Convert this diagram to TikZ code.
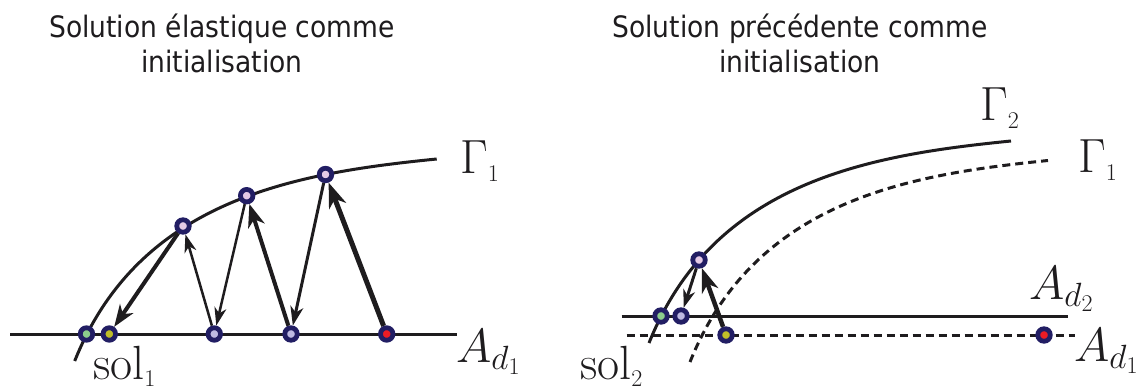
\RequirePackage{fix-cm}
\documentclass[tikz,border=0pt]{standalone}
\usepackage{fontspec}
\newfontfamily\titlefont{DejaVu Sans Condensed}
\usetikzlibrary{arrows.meta}
\definecolor{ink}{RGB}{30,28,30}
\definecolor{ring}{RGB}{34,30,100}
\definecolor{cgreen}{RGB}{140,205,140}
\definecolor{cyellow}{RGB}{192,190,40}
\definecolor{clav}{RGB}{190,186,226}
\definecolor{cpink}{RGB}{228,202,230}
\definecolor{cred}{RGB}{236,28,36}
\tikzset{
  curve/.style={line width=3pt, draw=ink},
  dcurve/.style={curve, dash pattern=on 8pt off 5pt},
  pt/.style={circle, draw=ring, line width=4.8pt, minimum size=12.5pt, inner sep=0pt},
  arrw/.style args={#1/#2/#3}{draw=ink, line width=#1,
     -{Stealth[length=#2, width=#3, inset=0.3*#2]}},
  lbl/.style={font=\fontsize{48}{58}\selectfont, inner sep=0pt, anchor=base west, text=ink},
  ttl/.style={font=\titlefont\fontsize{29.5}{36}\selectfont, inner sep=0pt, anchor=base, text=ink}
}
\begin{document}
\begin{tikzpicture}[x=1pt,y=-1pt]
\useasboundingbox (0,0) rectangle (1145,390);

% titles
\node[ttl] (tl1) at (222,38) {Solution élastique comme};
\node[ttl] (tl2) at (222,73) {initialisation};
\node[ttl] (tr1) at (800,38) {Solution précédente comme};
\node[ttl] (tr2) at (800,73) {initialisation};

% ---------- left panel ----------
\draw[curve] (10,334) -- (457,334);
\draw[curve, shift={(85.7,334)}] (-11,27) .. controls (54,-135.5) and (211,-161) .. (351,-175);

\node[pt, fill=cgreen]  (g1) at (86.5,334) {};
\node[pt, fill=cyellow] (y1) at (109.3,334) {};
\node[pt, fill=clav]    (l1) at (214.3,334) {};
\node[pt, fill=clav]    (l2) at (291,334) {};
\node[pt, fill=cred]    (r1) at (386.7,334) {};
\node[pt, fill=cpink]   (t1) at (183,226) {};
\node[pt, fill=cpink]   (t2) at (246.7,195.7) {};
\node[pt, fill=cpink]   (t3) at (325.5,174.5) {};

\draw[arrw=5pt/25pt/18pt]   (r1) -- (t3);
\draw[arrw=3pt/19pt/13pt]   (t3) -- (l2);
\draw[arrw=4pt/23pt/17pt]   (l2) -- (t2);
\draw[arrw=2.5pt/18pt/12pt] (t2) -- (l1);
\draw[arrw=2.5pt/18pt/12pt] (l1) -- (t1);
\draw[arrw=4pt/22pt/16pt]   (t1) -- (y1);

\node[lbl] (G1L) at (460,174) {$\Gamma_{\scriptscriptstyle 1}$};
\node[lbl] (A1L) at (456,362) {$A_{d_1}$};
\node[lbl] (S1)  at (93,379)  {$\mathrm{sol}_{\scriptscriptstyle 1}$};

% ---------- right panel ----------
\draw[curve] (621.7,316) -- (1068,316);
\draw[dcurve] (626.7,335) -- (1075,335);
\draw[curve, shift={(660,316)}] (-11,27) .. controls (54,-135.5) and (211,-161) .. (351,-175);
\draw[dcurve, shift={(701,335)}] (-11,27) .. controls (54,-135.5) and (209,-160.5) .. (347,-174.5);

\node[pt, fill=cgreen]  (g2) at (661,316) {};
\node[pt, fill=clav]    (l3) at (681,316) {};
\node[pt, fill=cyellow] (y2) at (726,335) {};
\node[pt, fill=cred]    (r2) at (1044,335) {};
\node[pt, fill=cpink]   (p2) at (699,260) {};

\draw[arrw=4.5pt/24pt/17pt] (y2) -- (p2);
\draw[arrw=3pt/18pt/12pt]   (p2) -- (l3);

\node[lbl] (G2)  at (980,121)  {$\Gamma_{\scriptscriptstyle 2}$};
\node[lbl] (G1R) at (1078,173) {$\Gamma_{\scriptscriptstyle 1}$};
\node[lbl] (A2R) at (1029,299) {$A_{d_2}$};
\node[lbl] (A1R) at (1074,361) {$A_{d_1}$};
\node[lbl] (S2)  at (580,379)  {$\mathrm{sol}_{\scriptscriptstyle 2}$};
\end{tikzpicture}
\end{document}
